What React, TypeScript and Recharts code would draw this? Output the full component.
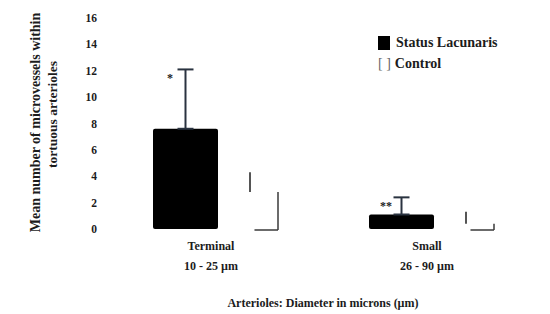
import React from 'react';
import { BarChart, Bar, XAxis, YAxis, ErrorBar, ReferenceDot, Label } from 'recharts';

// values
const categories = ['Terminal', 'Small'];
const sizeRanges = ['10 - 25 \u00b5m', '26 - 90 \u00b5m'];
const lacunarisMeans = [7.6, 1.1];
const lacunarisErrors = [4.5, 1.3];
const controlMeans = [2.8, 0.4];
const controlErrors = [1.5, 0.9];
const significance = ['*', '**'];
const yTicks = [0, 2, 4, 6, 8, 10, 12, 14, 16];

const data = categories.map((name, i) => ({
    name,
    range: sizeRanges[i],
    lacunaris: lacunarisMeans[i],
    lacunarisErr: [0, lacunarisErrors[i]],
    control: controlMeans[i],
    controlErr: [0, controlErrors[i]],
}));

const FONT = '"Liberation Serif", "DejaVu Serif", serif';
const INK = '#1c1c1c';

// the white control bars only kept part of their outline in the scan
const ControlShape = (props: any) => {
    const { x, y, width, height } = props;
    if (width == null || height == null) return null;
    const right = x + width;
    const bottom = y + height;
    return (
        <g stroke="#3a3a3a" strokeWidth={1.5} fill="none">
            <line x1={right} y1={y} x2={right} y2={bottom + 1} />
            <line x1={right - width * 0.42} y1={bottom + 1} x2={right} y2={bottom + 1} />
        </g>
    );
};

const CategoryTick = (props: any) => {
    const { x, y, payload, index } = props;
    return (
        <g transform={`translate(${x - 4},${y})`} fontFamily={FONT} fontWeight="bold" fontSize={12} fill={INK}>
            <text x={0} y={13} textAnchor="middle">{payload.value}</text>
            <text x={0} y={33} textAnchor="middle">{sizeRanges[index]}</text>
        </g>
    );
};

const YTitle = (props: any) => {
    const { viewBox } = props;
    const cy = viewBox.y + viewBox.height / 2;
    const x1 = viewBox.x + 20;
    const x2 = viewBox.x + 37;
    const y1 = cy - 1;
    const y2 = cy - 9;
    return (
        <g fontFamily={FONT} fontWeight="bold" fill={INK}>
            <text x={x1} y={y1} fontSize={14} textAnchor="middle" transform={`rotate(-90, ${x1}, ${y1})`}>
                Mean number of microvessels within
            </text>
            <text x={x2} y={y2} fontSize={13.5} textAnchor="middle" transform={`rotate(-90, ${x2}, ${y2})`}>
                tortuous arterioles
            </text>
        </g>
    );
};

const LegendBox = () => (
    <div style={{ position: 'absolute', top: 32, left: 378, fontFamily: FONT, fontWeight: 'bold', fontSize: 14, color: INK, lineHeight: '21px' }}>
        <div style={{ display: 'flex', alignItems: 'center' }}>
            <span style={{ display: 'inline-block', width: 12, height: 14, background: '#000', marginRight: 6 }} />
            Status Lacunaris
        </div>
        <div style={{ display: 'flex', alignItems: 'center' }}>
            <span style={{ color: '#666', fontWeight: 'normal', marginRight: 4 }}>[ ]</span>
            Control
        </div>
    </div>
);

const Stars = (text: string) => (props: any) => {
    const { viewBox } = props;
    return (
        <text x={viewBox.x - 45} y={viewBox.y + 13} fontFamily={FONT} fontWeight="bold" fontSize={12} fill={INK} textAnchor="middle">
            {text}
        </text>
    );
};

export default function App() {
    return (
        <div style={{ position: 'absolute', left: 0, top: 0, width: 550, height: 314, background: '#fff' }}>
            <BarChart
                width={550}
                height={314}
                data={data}
                margin={{ top: 18, right: 11, left: 20, bottom: 5 }}
                barGap={4}
                barCategoryGap={0}
            >
                <XAxis
                    dataKey="name"
                    axisLine={false}
                    tickLine={false}
                    height={80}
                    tick={<CategoryTick />}
                    interval={0}
                >
                    <Label
                        value={'Arterioles: Diameter in microns (\u00b5m)'}
                        position="insideBottom"
                        offset={2}
                        style={{ fontFamily: FONT, fontWeight: 'bold', fontSize: 12, fill: INK }}
                    />
                </XAxis>
                <YAxis
                    domain={[0, 16]}
                    ticks={yTicks}
                    width={87}
                    axisLine={false}
                    tickLine={false}
                    tickSize={0}
                    tickMargin={10}
                    tick={{ fontFamily: FONT, fontWeight: 'bold', fontSize: 11.5, fill: INK }}
                    label={<YTitle />}
                />
                <Bar dataKey="lacunaris" name="Status Lacunaris" fill="#000" barSize={65} radius={2} isAnimationActive={false}>
                    <ErrorBar dataKey="lacunarisErr" width={8} strokeWidth={2} stroke="#2a3340" direction="y" />
                </Bar>
                <Bar dataKey="control" name="Control" fill="none" barSize={56} shape={<ControlShape />} isAnimationActive={false}>
                    <ErrorBar dataKey="controlErr" width={0} strokeWidth={2} stroke="#555" direction="y" />
                </Bar>
                {categories.map((c, i) => (
                    <ReferenceDot
                        key={c}
                        x={c}
                        y={lacunarisMeans[i] + lacunarisErrors[i]}
                        r={0}
                        stroke="none"
                        fill="none"
                        label={Stars(significance[i])}
                    />
                ))}
            </BarChart>
            <LegendBox />
        </div>
    );
}
